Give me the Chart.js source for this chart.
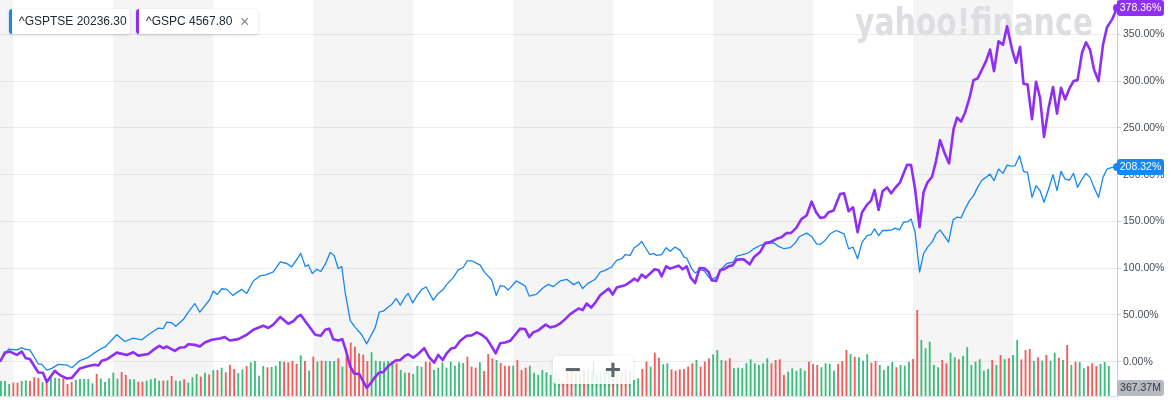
<!DOCTYPE html>
<html><head><meta charset="utf-8">
<script src="https://cdn.jsdelivr.net/npm/chart.js"></script>
<style>
html,body{margin:0;padding:0;background:#fff;}
#wrap{position:relative;width:1171px;height:401px;overflow:hidden;font-family:"Liberation Sans",Arial,sans-serif;}
#c{position:absolute;left:0;top:0;}
.chip{position:absolute;top:9px;height:25px;background:#fff;border-radius:3px;box-shadow:0 1px 3px rgba(0,0,0,0.16);font-size:12px;color:#232a31;line-height:25px;white-space:nowrap;box-sizing:border-box;padding-left:10px;overflow:hidden;}
.chip .bar{position:absolute;left:0;top:0;bottom:0;width:3px;}
.chip .x{position:absolute;left:104px;top:0;font-size:16px;color:#828c93;}
#zoom{position:absolute;left:553px;top:356px;width:80px;height:28px;background:rgba(255,255,255,0.86);border-radius:4px;box-shadow:0 1px 4px rgba(0,0,0,0.12);}
#zoom .zb{position:absolute;top:0;width:40px;height:28px;line-height:28px;text-align:center;font-weight:bold;font-size:28px;color:#5e666d;}
#zoom .sep{position:absolute;left:40px;top:5px;width:1px;height:18px;background:#e3e3e3;}
</style>
</head><body>
<div id="wrap">
<canvas id="c" width="1171" height="401"></canvas>
<div class="chip" id="chip0" style="left:9px;width:121px"><span class="bar"></span><span class="t"></span></div>
<div class="chip" id="chip1" style="left:136px;width:122px"><span class="bar"></span><span class="t"></span><span class="x">×</span></div>
<div id="zoom"><span class="zb" style="left:0">−</span><span class="sep"></span><span class="zb" style="left:40px">+</span></div>
</div>
<script>
// ---------- data ----------
const seriesNames = ['^GSPTSE', '^GSPC'];
const lastPrices = ['20236.30', '4567.80'];

const tseYears = [2001.733,2001.90,2002.07,2002.17,2002.23,2002.33,2002.50,2002.57,2002.67,2002.77,2002.90,2003.07,2003.17,2003.33,2003.50,2003.63,2003.77,2003.83,2004.07,2004.23,2004.40,2004.57,2004.70,2004.90,2005.00,2005.07,2005.17,2005.25,2005.40,2005.50,2005.63,2005.73,2005.93,2006.00,2006.08,2006.17,2006.27,2006.39,2006.57,2006.67,2006.80,2006.93,2007.07,2007.20,
2007.34,2007.47,2007.57,2007.75,2007.84,2007.90,2007.98,2008.07,2008.15,2008.24,2008.34,2008.42,2008.50,2008.57,2008.64,2008.74,2008.84,2008.97,2009.07,2009.24,2009.32,2009.40,2009.48,2009.57,2009.66,2009.74,2009.84,2009.90,2009.99,2010.07,2010.17,2010.26,2010.40,2010.50,2010.60,2010.67,2010.80,2010.90,2011.00,2011.08,2011.17,2011.34,2011.42,2011.54,2011.57,2011.66,2011.74,2011.82,2011.90,2012.06,2012.15,2012.24,2012.32,2012.46,2012.60,2012.70,2012.80,
2012.94,2013.07,2013.21,2013.31,2013.39,2013.49,2013.64,2013.74,2013.84,2013.97,2014.07,2014.17,2014.24,2014.34,2014.42,2014.51,2014.57,2014.66,2014.73,2014.81,2014.87,2014.97,2015.06,2015.14,2015.24,2015.34,2015.42,2015.47,2015.57,2015.64,2015.74,2015.82,2015.91,2015.97,2016.07,2016.14,2016.27,2016.41,2016.47,2016.59,2016.71,2016.81,2016.94,2017.04,2017.21,2017.31,2017.42,2017.54,2017.64,2017.73,2017.87,2017.97,2018.07,2018.14,2018.24,2018.34,2018.46,
2018.54,2018.62,2018.71,2018.80,2018.89,2018.98,2019.08,2019.16,2019.23,2019.31,2019.39,2019.48,2019.58,2019.64,2019.73,2019.81,2019.90,2019.96,2020.04,2020.13,2020.21,2020.29,2020.38,2020.46,2020.54,2020.62,2020.71,2020.80,2020.88,2020.96,2021.04,2021.13,2021.21,2021.29,2021.38,2021.46,2021.54,2021.62,2021.71,2021.80,2021.88,2021.96,2022.04,2022.13,2022.21,2022.29,2022.38,2022.46,2022.54,2022.62,2022.71,2022.80,2022.88,2022.96,2023.04,2023.13,2023.21,2023.29,2023.38,2023.46,2023.54,2023.62,2023.71,2023.80,2023.88,2023.98,2024.08];
const tseChange = [0,13.3,12.6,15.1,13.3,12.6,-2.5,-2.9,-9.0,-7.2,-2.9,-3.6,-6.5,1.1,4.7,9.7,14.4,15.5,28.8,21.6,25.2,23.4,28.8,36.0,35.3,42.4,41.4,37.8,45.0,52.9,62.2,52.9,66.5,75.5,71.9,78.0,77.3,70.9,77.3,73.0,86.3,91.7,93.2,96.0,
106.8,105.0,101.4,115.8,101.8,103.6,94.2,98.9,96.4,104.3,116.9,113.3,99.6,101.8,73.7,43.9,36.7,28.8,19.1,36.7,52.9,54.0,57.6,61.2,67.6,60.4,69.4,73.0,62.9,70.1,77.3,79.9,65.8,73.0,77.3,82.7,89.9,98.2,100.7,107.9,107.9,103.2,96.0,89.2,87.4,70.9,81.3,80.6,76.6,86.3,83.8,80.9,70.1,71.9,79.1,82.7,80.2,
86.3,88.1,82.4,85.3,78.2,83.5,88.1,95.9,97.7,101.3,108.4,110.1,114.4,113.7,121.9,125.1,128.6,120.8,114.8,115.5,113.7,114.4,121.9,118.0,122.6,119.0,111.9,110.9,99.5,94.9,98.4,97.0,90.6,88.1,90.6,97.7,104.8,106.6,113.0,114.4,116.5,120.7,124.3,126.1,127.2,123.3,120.8,121.9,126.8,133.9,137.5,133.9,126.1,125.4,129.7,136.8,140.3,
138.5,136.7,120.7,122.5,110.1,127.8,134.9,136.0,142.0,134.9,140.3,140.3,141.0,142.8,141.0,149.1,149.9,152.7,138.5,95.9,115.4,122.5,127.8,136.7,141.0,134.9,127.8,151.7,154.5,153.8,163.4,172.2,177.6,186.4,194.3,197.1,200.6,193.5,206.0,201.4,210.2,209.2,209.5,220.2,203.5,202.4,175.8,188.2,182.9,170.5,184.7,199.9,182.9,203.5,195.3,194.3,201.4,186.4,195.3,201.4,197.1,186.4,175.8,197.1,206.0,207.8,208.32];

const spxYears = [2001.733,2001.83,2001.93,2002.07,2002.17,2002.25,2002.33,2002.50,2002.59,2002.67,2002.83,2002.93,2003.07,2003.17,2003.33,2003.50,2003.63,2003.70,2003.77,2003.87,2004.07,2004.27,2004.40,2004.50,2004.70,2004.80,2004.92,2005.00,2005.07,2005.23,2005.33,2005.43,2005.50,2005.63,2005.73,2005.83,2005.97,2006.13,2006.23,2006.33,2006.50,2006.67,2006.80,2007.00,2007.10,2007.20,
2007.34,2007.50,2007.60,2007.68,2007.75,2007.84,2007.94,2008.04,2008.15,2008.24,2008.32,2008.40,2008.50,2008.58,2008.65,2008.74,2008.82,2008.92,2009.07,2009.17,2009.24,2009.32,2009.40,2009.50,2009.64,2009.74,2009.84,2009.90,2010.00,2010.10,2010.22,2010.32,2010.42,2010.50,2010.59,2010.67,2010.75,2010.84,2010.94,2011.07,2011.17,2011.27,2011.37,2011.47,2011.55,2011.65,2011.74,2011.84,2011.94,2012.04,2012.14,2012.24,2012.32,2012.40,2012.50,2012.65,2012.74,2012.84,
2012.94,2013.04,2013.14,2013.31,2013.39,2013.47,2013.56,2013.64,2013.74,2013.91,2013.99,2014.07,2014.24,2014.34,2014.42,2014.49,2014.57,2014.65,2014.83,2014.91,2014.97,2015.06,2015.14,2015.31,2015.39,2015.47,2015.55,2015.64,2015.73,2015.82,2015.91,2015.97,2016.06,2016.14,2016.24,2016.31,2016.39,2016.47,2016.61,2016.73,2016.82,2016.94,2017.04,2017.14,2017.27,2017.37,2017.47,2017.56,2017.66,2017.77,2017.87,2017.97,2018.06,2018.14,2018.23,2018.31,2018.41,
2018.54,2018.62,2018.71,2018.80,2018.89,2018.98,2019.08,2019.16,2019.23,2019.31,2019.39,2019.48,2019.56,2019.64,2019.74,2019.88,2019.96,2020.04,2020.13,2020.21,2020.29,2020.38,2020.46,2020.54,2020.64,2020.72,2020.81,2020.88,2020.96,2021.04,2021.13,2021.21,2021.29,2021.38,2021.46,2021.54,2021.62,2021.71,2021.80,2021.88,2021.98,2022.06,2022.14,2022.21,2022.29,2022.38,2022.46,2022.54,2022.62,2022.71,2022.80,2022.88,2022.96,2023.04,2023.13,2023.21,2023.29,2023.38,2023.46,2023.54,2023.62,2023.71,2023.80,2023.88,2023.98,2024.08];
const spxChange = [0,9.7,10.8,7.2,10.8,3.6,2.9,-11.5,-11.9,-21.6,-9.7,-14.4,-18.0,-17.3,-7.2,-4.7,-3.2,-4.0,1.1,2.5,9.7,7.2,10.1,6.5,8.3,12.6,16.9,14.4,16.2,11.5,15.1,15.5,18.7,18.0,16.2,20.5,23.4,24.8,26.3,22.7,24.1,28.8,34.2,38.5,36.0,39.6,
47.8,40.6,43.2,47.8,50.0,43.2,36.0,28.8,27.7,34.2,35.3,24.1,22.7,24.1,12.6,-5.4,-12.6,-13.3,-28.1,-21.6,-16.2,-11.5,-11.2,-4.7,1.1,1.8,6.5,7.9,4.3,8.3,14.4,4.7,-1.1,7.2,1.8,9.0,13.7,15.1,22.3,27.7,28.1,31.3,28.8,24.5,18.0,9.0,19.8,20.5,22.3,28.8,35.3,34.9,26.3,31.3,33.5,39.6,36.7,37.8,
40.9,45.5,50.8,56.9,55.1,62.2,57.9,62.9,71.1,78.2,71.8,79.3,81.7,85.3,88.8,86.3,93.1,89.9,98.8,97.7,91.3,102.0,99.5,102.7,98.8,102.0,89.9,84.2,100.2,99.8,95.9,87.0,86.3,97.7,99.5,102.0,103.0,109.1,109.5,104.1,111.9,117.2,126.8,127.9,131.4,133.2,137.5,137.8,142.8,152.8,156.3,171.2,159.9,153.8,154.5,159.9,161.6,
179.3,180.0,160.9,165.1,138.5,159.8,168.0,172.2,183.6,162.3,182.2,186.4,180.0,185.7,191.8,210.6,210.2,184.7,143.8,181.1,191.8,197.8,214.8,236.9,221.9,212.0,248.6,261.0,256.8,266.3,282.3,301.1,302.9,312.5,321.4,333.8,310.7,342.7,339.1,358.7,333.8,319.6,336.6,297.2,296.5,259.2,299.4,282.3,240.4,270.9,293.7,265.3,293.0,280.5,292.3,300.1,301.1,330.3,341.6,333.8,312.5,300.1,339.1,357.6,365.8,378.36];

// monthly volume (millions) and up/down flag, first bar = Oct 2001
const volumeStartYear = 2001.75;
const volumeM = [182,182,145,161,161,182,190,182,228,219,169,203,223,223,215,215,145,169,194,207,207,207,153,268,211,169,215,285,211,293,256,203,203,173,173,186,203,215,186,186,190,244,186,182,203,161,228,268,235,285,264,318,318,346,289,383,330,277,326,367,413,429,247,367,351,355,371,429,421,413,429,396,500,429,309,482,421,433,429,429,429,463,359,491,656,606,524,507,429,537,433,429,421,429,429,401,
318,285,285,268,367,359,421,421,318,346,413,346,421,371,413,404,482,359,346,413,305,516,463,441,404,371,371,371,441,318,346,371,285,256,318,289,256,235,215,173,290,300,280,260,310,330,300,270,290,310,320,330,300,290,320,300,194,215,330,421,359,532,470,388,401,326,309,326,330,359,401,441,359,421,463,512,565,441,433,463,339,346,339,401,450,401,380,401,463,401,441,
450,256,297,339,309,339,309,421,392,380,351,401,392,309,392,429,565,516,482,475,433,516,408,429,380,318,367,417,351,380,371,417,454,1060,689,586,668,380,351,442,401,532,475,450,491,599,380,421,450,309,330,442,380,503,450,463,503,689,450,565,578,429,475,433,503,433,532,470,442,627,380,421,417,339,367,401,367,392,417,367.37];
const volumeUp = [1,1,1,0,0,1,1,0,0,0,1,0,1,1,1,0,0,0,1,1,1,1,1,0,1,1,1,1,1,0,0,1,1,0,0,1,1,1,1,0,1,0,1,1,0,1,1,1,0,1,0,1,0,1,0,0,0,1,1,0,1,1,1,1,0,1,1,1,0,0,0,0,1,0,1,0,1,0,1,1,1,0,1,0,0,0,0,0,0,1,1,1,1,1,1,0,
1,1,0,1,1,1,0,0,1,1,1,1,1,1,1,1,0,0,0,1,0,0,0,1,0,0,0,1,0,0,0,1,1,1,1,1,1,1,1,0,0,0,1,1,0,1,1,1,1,1,1,0,1,0,0,1,1,1,0,0,1,0,0,1,1,0,0,0,0,0,0,1,0,0,0,1,1,1,0,0,1,1,1,1,1,1,1,1,1,0,0,
0,0,1,1,1,1,1,0,0,0,1,1,1,1,0,0,0,1,0,1,1,1,0,0,1,1,1,1,0,1,1,1,0,0,1,1,1,1,1,0,0,1,1,0,1,1,1,1,1,1,1,0,1,0,1,0,1,1,0,0,0,1,0,1,0,1,1,0,1,0,1,0,1,1,0,0,0,1,1,1];

const yTicks = [0, 50, 100, 150, 200, 250, 300, 350];
const shadedPeriods = [[2001.733, 2002], [2004, 2006], [2008, 2010], [2012, 2014], [2016, 2018], [2020, 2022]];

// ---------- styles ----------
const BLUE = '#1687f3';
const PURPLE = '#8f2ef5';
const UP = '#3dbd7d';
const DOWN = '#f45c5c';
const FONT = '"Liberation Sans", Arial, sans-serif';

// legend chips
[0,1].forEach(i=>{
  const el = document.getElementById('chip'+i);
  el.querySelector('.bar').style.background = i===0 ? BLUE : PURPLE;
  el.querySelector('.t').textContent = seriesNames[i] + ' ' + lastPrices[i];
});

const tse = tseYears.map((x,i)=>({x, y: tseChange[i]}));
const spx = spxYears.map((x,i)=>({x, y: spxChange[i]}));
const vol = volumeM.map((v,i)=>({x: volumeStartYear + i/12, y: v}));
const volColors = volumeUp.map(u => u ? UP : DOWN);

function rr(ctx,x,y,w,h,r){
  ctx.beginPath();
  ctx.moveTo(x+r,y);ctx.lineTo(x+w-r,y);ctx.quadraticCurveTo(x+w,y,x+w,y+r);
  ctx.lineTo(x+w,y+h-r);ctx.quadraticCurveTo(x+w,y+h,x+w-r,y+h);
  ctx.lineTo(x+r,y+h);ctx.quadraticCurveTo(x,y+h,x,y+h-r);
  ctx.lineTo(x,y+r);ctx.quadraticCurveTo(x,y,x+r,y);ctx.closePath();
}

const decor = {
  id: 'decor',
  beforeDraw(chart){
    const {ctx, chartArea:a, scales:{x}} = chart;
    ctx.save();
    ctx.fillStyle = '#fff';
    ctx.fillRect(0,0,chart.width,chart.height);
    ctx.fillStyle = '#f5f5f5';
    shadedPeriods.forEach(([s,e])=>{
      const x0 = Math.max(a.left, x.getPixelForValue(s));
      const x1 = Math.min(a.right, x.getPixelForValue(e));
      ctx.fillRect(x0, a.top, x1-x0, a.bottom-a.top);
    });
    ctx.restore();
  },
  beforeDatasetsDraw(chart){
    const {ctx, chartArea:a} = chart;
    ctx.save();
    ctx.strokeStyle = '#d6dee7';
    ctx.lineWidth = 1;
    ctx.beginPath(); ctx.moveTo(a.left, a.bottom+0.5); ctx.lineTo(a.right, a.bottom+0.5); ctx.stroke();
    const txt = 'yahoo!finance';
    ctx.font = 'bold 37px "DejaVu Sans"';
    const w = ctx.measureText(txt).width;
    ctx.translate(855, 35);
    ctx.scale(238/w, 1);
    ctx.fillStyle = '#dcdee2';
    ctx.textBaseline = 'alphabetic';
    ctx.fillText(txt, 0, 0);
    ctx.restore();
  },
  afterDraw(chart){
    const {ctx, chartArea:a, scales:{y}} = chart;
    const tag = (yc, text, bg, fg) => {
      const h = 16, w = 47;
      let top = yc - h/2;
      if (top < 0) top = 0;
      if (top + h > a.bottom) top = a.bottom - h;
      ctx.fillStyle = bg;
      rr(ctx, a.right, top, w, h, 3); ctx.fill();
      ctx.fillStyle = fg;
      ctx.font = '10.5px ' + FONT;
      ctx.textAlign = 'center'; ctx.textBaseline = 'middle';
      ctx.fillText(text, a.right + w/2, top + h/2 + 0.5);
    };
    ctx.save();
    const lastS = spxChange[spxChange.length-1];
    const lastT = tseChange[tseChange.length-1];
    const lastV = volumeM[volumeM.length-1];
    tag(y.getPixelForValue(lastS), lastS.toFixed(2)+'%', PURPLE, '#fff');
    tag(y.getPixelForValue(lastT), lastT.toFixed(2)+'%', BLUE, '#fff');
    tag(a.bottom, lastV.toFixed(2)+'M', '#b7bac1', '#33383d');
    ctx.restore();
  }
};

new Chart(document.getElementById('c'), {
  type: 'line',
  data: {
    datasets: [
      {type:'line', label: seriesNames[1], data: spx, borderColor: PURPLE, backgroundColor: PURPLE, borderWidth: 2.6,
       pointRadius: c => c.dataIndex === spx.length-1 ? 4 : 0, pointBorderWidth: 0, tension: 0, borderJoinStyle:'round',
       yAxisID: 'y', order: 1, clip: 6},
      {type:'line', label: seriesNames[0], data: tse, borderColor: BLUE, backgroundColor: BLUE, borderWidth: 1.3,
       pointRadius: c => c.dataIndex === tse.length-1 ? 4 : 0, pointBorderWidth: 0, tension: 0, borderJoinStyle:'round',
       yAxisID: 'y', order: 2, clip: 6},
      {type:'bar', label: 'Volume', data: vol, backgroundColor: volColors, barThickness: 1.2, yAxisID: 'yVol', order: 3}
    ]
  },
  options: {
    responsive: false,
    animation: false,
    events: [],
    layout: {autoPadding: false, padding: {left: 0, right: 0, top: 0, bottom: 5}},
    plugins: {legend: {display: false}, tooltip: {enabled: false}},
    scales: {
      x: {type: 'linear', min: 2001.733, max: 2024.08, display: false, offset: false},
      y: {
        position: 'right', min: -36.7, max: 386.8,
        afterBuildTicks: s => { s.ticks = yTicks.map(v => ({value: v})); },
        afterFit: s => { s.width = 54; s.paddingTop = 0; s.paddingBottom = 0; },
        ticks: {callback: v => Number(v).toFixed(2) + '%', color: '#464e56', font: {family: FONT, size: 10.5}, padding: 2, autoSkip: false},
        grid: {color: 'rgba(0,0,0,0.075)', tickLength: 4, tickColor: '#cdd1d6'},
        border: {display: true, color: '#c9cdd2'}
      },
      yVol: {display: false, min: 0, max: 4898}
    }
  },
  plugins: [decor]
});
</script>
</body></html>
